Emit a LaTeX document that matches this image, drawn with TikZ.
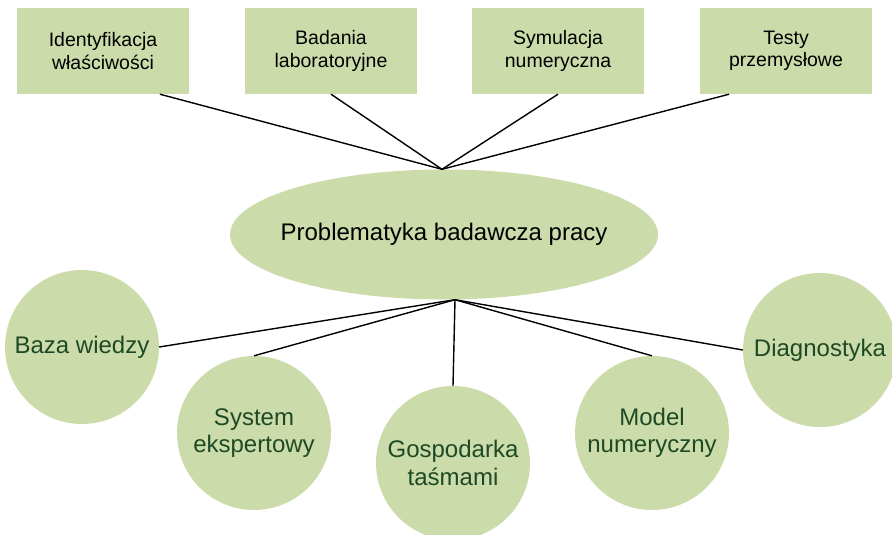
\documentclass[tikz,border=0pt]{standalone}
\usepackage{fontspec}
\setmainfont{Liberation Sans}
\usepackage{xcolor}
\usepackage{tikz}
\usetikzlibrary{calc,positioning,shapes.geometric}

\definecolor{sage}{RGB}{204,219,170}
\definecolor{leaf}{RGB}{29,74,37}

\tikzset{
	link/.style = {draw=black, line width=1.4pt},
	topic/.style = {
			rectangle,
			fill            = sage,
			minimum width   = 172pt,
			minimum height  = 86pt,
			inner sep = 0pt,
			align = center,
			font = \fontsize{19.5}{22.5}\selectfont,
		},
	hub/.style = {
			ellipse,
			fill            = sage,
			minimum width   = 428pt,
			minimum height  = 130pt,
			inner ysep = 0pt,
			inner xsep = -16pt,
			font = \fontsize{24}{28}\selectfont,
		},
	area/.style = {
			circle,
			fill            = sage,
			minimum size    = 154pt,
			inner sep = 0pt,
			align = center,
			text = leaf,
			font = \fontsize{24}{27.5}\selectfont,
		}
}

\begin{document}
\begin{tikzpicture}[x=1pt, y=-1pt]
	\useasboundingbox (0,0) rectangle (892,535);

	% research methods along the top
	\node[topic] (ident) at (103,51) {Identyfikacja\\właściwości};
	\node[topic] (lab) at (331,51) {Badania\\laboratoryjne};
	\node[topic] (sym) at (558,51) {Symulacja\\numeryczna};
	\node[topic] (test) at (786,51) {Testy\\przemysłowe};

	% central problem
	\node[hub] (prob) at (444,234.5) {Problematyka badawcza pracy};
	\coordinate (top) at ($(prob.north)+(-2,0)$);
	\coordinate (foot) at ($(prob.south)+(11,0)$);

	% application areas below
	\node[area] (baza) at (82,347) {Baza wiedzy};
	\node[area] (sys) at (254,433) {System\\ekspertowy};
	\node[area] (gosp) at (453,463) {Gospodarka\\taśmami};
	\node[area] (model) at (652,433) {Model\\numeryczny};
	\node[area] (diag) at (820,350) {Diagnostyka};

	\draw[link] ($(ident.south west)!0.83!(ident.south east)$) -- (top);
	\draw[link] (lab.south) -- (top);
	\draw[link] (sym.south) -- (top);
	\draw[link] ($(test.south west)!0.17!(test.south east)$) -- (top);

	\draw[link] (foot) -- (baza.east);
	\draw[link] (foot) -- (sys.north);
	\draw[link] (foot) -- (gosp.north);
	\draw[link] (foot) -- (model.north);
	\draw[link] (foot) -- (diag.west);
\end{tikzpicture}
\end{document}
